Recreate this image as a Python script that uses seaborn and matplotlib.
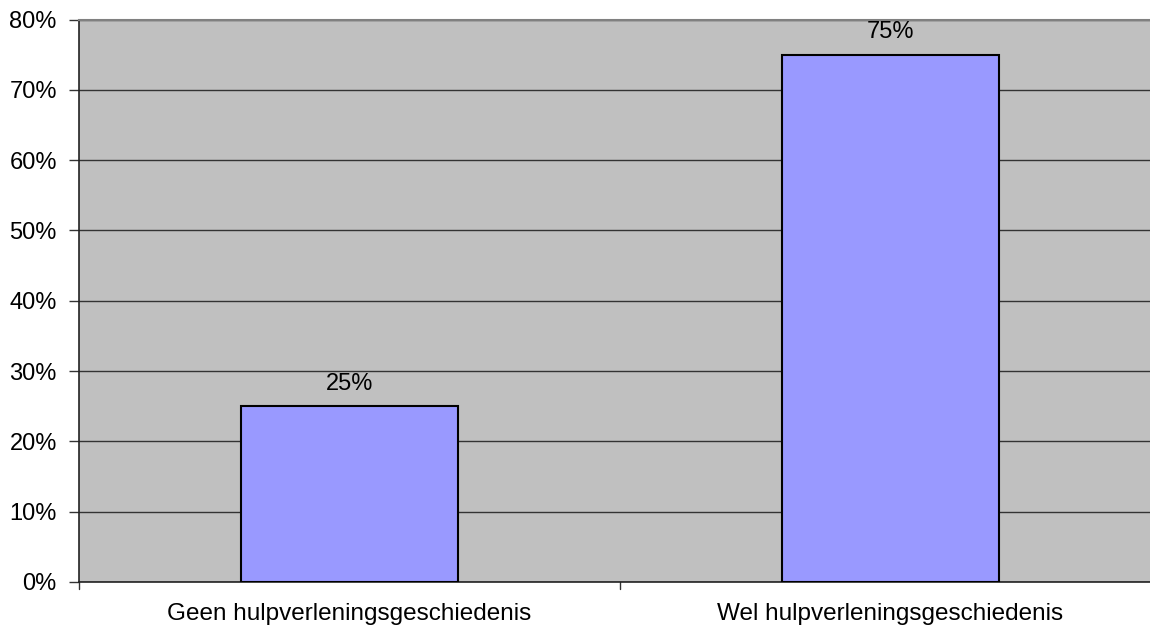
import matplotlib
matplotlib.use("Agg")
import matplotlib.pyplot as plt
import seaborn as sns
import pandas as pd
import numpy as np

categories = ["Geen hulpverleningsgeschiedenis", "Wel hulpverleningsgeschiedenis"]
values = [25, 75]
value_labels = ["25%", "75%"]
y_ticks = [0, 10, 20, 30, 40, 50, 60, 70, 80]

sns.set_style("white")
plt.rcParams['font.family'] = ['Liberation Sans', 'DejaVu Sans']

df = pd.DataFrame({"cat": categories, "val": values})

fig = plt.figure(figsize=(11.5, 6.28), dpi=100)
# plot area runs off the right edge like the original
ax = fig.add_axes([79 / 1150, 1 - 582 / 628, (1161 - 79) / 1150, (582 - 19.5) / 628])
ax.set_facecolor("#C0C0C0")

sns.barplot(data=df, x="cat", y="val", color="#9999FF", saturation=1,
            width=0.4, edgecolor="black", linewidth=1.5, ax=ax, zorder=3)

ax.set_ylim(0, 80)
ax.set_xlim(-0.5, 1.5)
ax.set_yticks(y_ticks)
ax.set_yticklabels([f"{t}%" for t in y_ticks], fontsize=17, color="black")
ax.yaxis.grid(True, color="#333333", linewidth=1, zorder=1)
ax.set_axisbelow(True)

ax.set_xticks([0, 1])
ax.set_xticklabels(categories, fontsize=17.5, color="black")
ax.tick_params(axis="x", length=0, pad=15)
ax.tick_params(axis="y", length=7, width=1, color="#333333", direction="out", left=True, pad=9)
for b in [-0.5, 0.5, 1.5]:
    ax.plot([b, b], [0, -1.0], color="#333333", lw=1, clip_on=False)

ax.set_xlabel("")
ax.set_ylabel("")

for p, lab in zip(ax.patches, value_labels):
    ax.annotate(lab, (p.get_x() + p.get_width() / 2, p.get_height() + 1.6),
                ha="center", va="bottom", fontsize=17, color="black")

for s in ["left", "bottom"]:
    ax.spines[s].set_color("#222222")
    ax.spines[s].set_linewidth(1.2)
ax.spines["top"].set_color("#808080")
ax.spines["top"].set_linewidth(1.5)
ax.spines["right"].set_visible(False)

fig.savefig("out.png", dpi=100)
